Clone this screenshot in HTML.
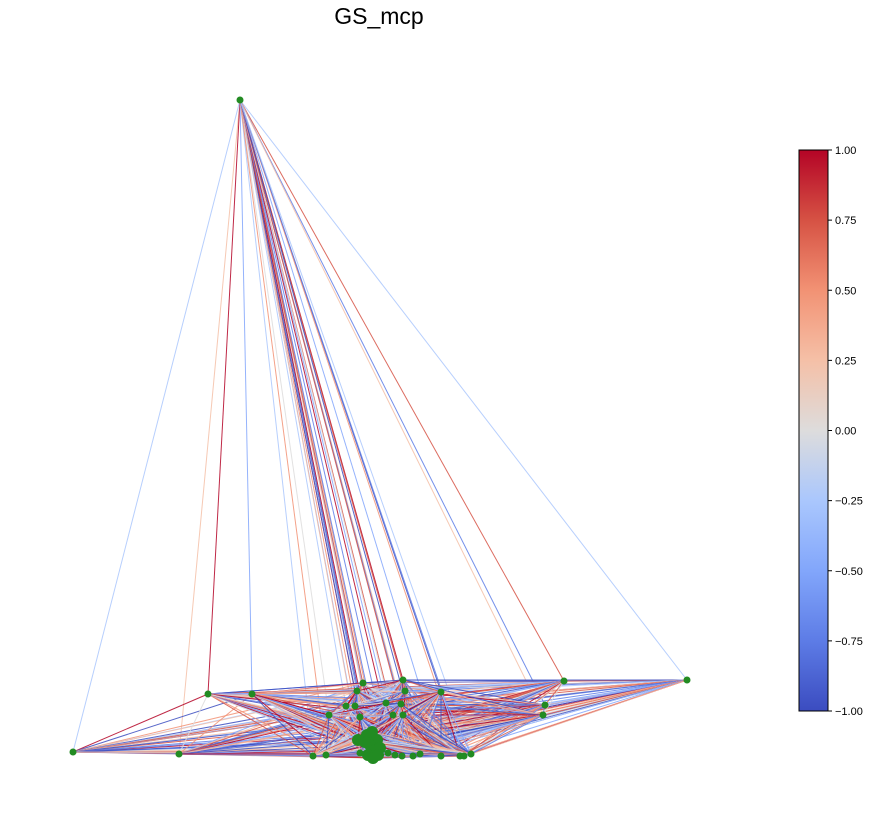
<!DOCTYPE html>
<html><head><meta charset="utf-8"><style>
body{margin:0;background:#fff;font-family:"Liberation Sans",sans-serif}
svg{display:block}
</style></head><body>
<svg id="chart" width="876" height="839">
<defs><linearGradient id="cmap" x1="0" y1="1" x2="0" y2="0">
<stop offset="0" stop-color="#3b4cc0"/><stop offset="0.125" stop-color="#5d7ce6"/><stop offset="0.25" stop-color="#82a6fb"/><stop offset="0.375" stop-color="#aac7fd"/><stop offset="0.5" stop-color="#dddcdc"/><stop offset="0.625" stop-color="#f5c0a7"/><stop offset="0.75" stop-color="#f29274"/><stop offset="0.875" stop-color="#d65244"/><stop offset="1" stop-color="#b40426"/></linearGradient></defs>
<text x="379" y="24" font-size="23" text-anchor="middle">GS_mcp</text>
<g id="edges"></g>
<g id="nodes"></g>
<g>
<rect x="799" y="150" width="29" height="561" fill="url(#cmap)" stroke="#000" stroke-width="1"/>
<g id="cbticks" font-size="11"></g>
</g>
</svg>
<script>
const nodeX=[240,73,179,208,252,687,564,545,543,363,403,357,405,441,346,355,386,401,329,360,393,403,367,372,377,370,375,380,368,373,365,378,358,313,326,360,388,395,402,413,420,441,460,464,471];
const nodeY=[100,752,754,694,694,680,681,705,715,683,680,691,691,692,706,706,703,704,715,717,715,715,735,732,740,745,750,748,755,758,742,755,740,756,755,753,753,755,756,756,754,756,756,756,754];
const weightCodes="dficdhbfeibhadgcfeihbacgdfbeiahcdgfbiehacgbdfiaechbgdfaicehbgfdaibcehfgdbiahcefgdbaihcfegbdaichfegbadihcgfebdaichgfeabdichgefbadicfhgebaidchfgeabdicfgheabdcifhgeabdicghfeadbcifhegbadcihfgebadicgfhebaidcfhgebadicgfhaebdcifgheabdcigfhebadcifgheabdcgifhebadcfighebadcifghaebdcfighebadcgifhebdacifgheabdcifghebadcfgihebadcifghebdacgfiheabdcifghebadcfgiheabdcifghebadcgifhebadcfighebadcifghe";
const cbTicks=[-1,-0.75,-0.5,-0.25,0,0.25,0.5,0.75,1];
const NS="http://www.w3.org/2000/svg";
const stops=[[-1,[59,76,192]],[-0.75,[93,124,230]],[-0.5,[130,166,251]],[-0.25,[170,199,253]],[0,[221,220,220]],[0.25,[245,192,167]],[0.5,[242,146,116]],[0.75,[214,82,68]],[1,[180,4,38]]];
function cmap(v){for(let i=0;i<stops.length-1;i++){const[a,ca]=stops[i],[b,cb]=stops[i+1];if(v<=b){const t=(v-a)/(b-a);return`rgb(${ca.map((c,k)=>Math.round(c+(cb[k]-c)*t)).join(",")})`;}}return"rgb(180,4,38)";}
function codeVal(ch){return (ch.charCodeAt(0)-97)/4-1;}
const eg=document.getElementById("edges");
let k=0;
for(let i=0;i<nodeX.length;i++)for(let j=i+1;j<nodeX.length;j++){
 const w=codeVal(weightCodes[k%weightCodes.length]);k++;
 const l=document.createElementNS(NS,"line");
 l.setAttribute("x1",nodeX[i]);l.setAttribute("y1",nodeY[i]);l.setAttribute("x2",nodeX[j]);l.setAttribute("y2",nodeY[j]);
 l.setAttribute("stroke",cmap(w));l.setAttribute("stroke-width","1");l.setAttribute("stroke-opacity","0.85");
 
 
 eg.appendChild(l);}
const ng=document.getElementById("nodes");
for(let i=0;i<nodeX.length;i++){
 const c=document.createElementNS(NS,"circle");
 c.setAttribute("cx",nodeX[i]);c.setAttribute("cy",nodeY[i]);c.setAttribute("r",i>=22&&i<=32?6:3.5);c.setAttribute("fill","#228b22");
 
 
 ng.appendChild(c);}
const tg=document.getElementById("cbticks");
cbTicks.forEach(t=>{const y=711-(t+1)/2*561;
 const l=document.createElementNS(NS,"line");l.setAttribute("x1",828);l.setAttribute("x2",832);l.setAttribute("y1",y);l.setAttribute("y2",y);l.setAttribute("stroke","#000");
 
 
 tg.appendChild(l);
 const tx=document.createElementNS(NS,"text");tx.setAttribute("x",835);tx.setAttribute("y",y+4);tx.textContent=(t<0?"\u2212":"")+Math.abs(t).toFixed(2);
 
 
 tg.appendChild(tx);});
</script>
</body></html>
